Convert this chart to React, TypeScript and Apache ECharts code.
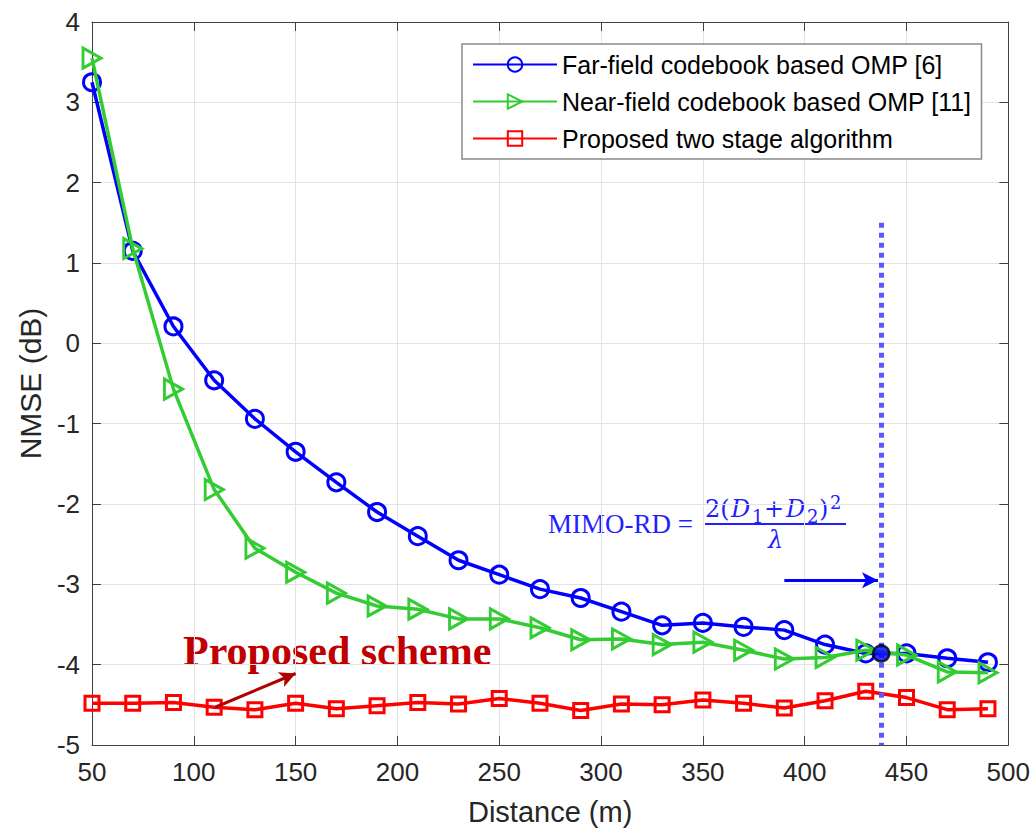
import React, { useEffect, useRef } from 'react';
import * as echarts from 'echarts';

const distance = [50, 70, 90, 110, 130, 150, 170, 190, 210, 230, 250, 270, 290, 310, 330, 350, 370, 390, 410, 430, 450, 470, 490];
const farField = [3.25, 1.15, 0.21, -0.46, -0.94, -1.35, -1.73, -2.10, -2.40, -2.70, -2.88, -3.06, -3.17, -3.34, -3.51, -3.48, -3.53, -3.57, -3.75, -3.86, -3.86, -3.92, -3.97];
const nearField = [3.55, 1.18, -0.57, -1.82, -2.55, -2.85, -3.11, -3.27, -3.31, -3.43, -3.43, -3.54, -3.69, -3.68, -3.75, -3.72, -3.82, -3.93, -3.91, -3.82, -3.88, -4.09, -4.10];
const proposed = [-4.48, -4.48, -4.47, -4.53, -4.56, -4.48, -4.55, -4.51, -4.47, -4.49, -4.42, -4.48, -4.57, -4.49, -4.50, -4.44, -4.48, -4.54, -4.45, -4.33, -4.41, -4.56, -4.55];
const seriesNames = ['Far-field codebook based OMP [6]', 'Near-field codebook based OMP [11]', 'Proposed two stage algorithm'];
const mimoRd = 437.6;
const mimoRdPoint = [437.6, -3.86];
const mimoLineTop = 1.5;
const mimoArrow = [[390, -2.95], [436, -2.95]];
const schemeArrow = [[110.5, -4.53], [150, -4.11]];

const pairs = (ys: number[]) => distance.map((d, i) => [d, ys[i]]);

export default function App() {
  const ref = useRef<HTMLDivElement>(null);
  useEffect(() => {
    const chart = echarts.init(ref.current!, null, { renderer: 'svg' });
    const sans = '"Liberation Sans", Arial, sans-serif';
    const serif = '"Liberation Serif", "Times New Roman", serif';
    const mathFont = '"DejaVu Serif", serif';
    const axisColor = '#404040';
    const mathBlue = '#1f1fff';
    const xBase = {
      type: 'value', min: 50, max: 500, interval: 50,
      axisLine: { show: true, onZero: false, lineStyle: { color: axisColor, width: 1 } },
      axisTick: { show: true, inside: true, length: 9, lineStyle: { color: axisColor } },
    };
    const yBase = {
      type: 'value', min: -5, max: 4, interval: 1,
      axisLine: { show: true, onZero: false, lineStyle: { color: axisColor, width: 1 } },
      axisTick: { show: true, inside: true, length: 9, lineStyle: { color: axisColor } },
    };
    const mt = (t: string, x: number, y: number, size: number, italic = false, family = mathFont) => ({
      type: 'text', x, y, silent: true,
      style: { text: t, fill: mathBlue, fontSize: size, fontFamily: family, fontStyle: italic ? 'italic' : 'normal', align: 'left', verticalAlign: 'middle' },
    });
    chart.setOption({
      animation: false,
      backgroundColor: '#fff',
      grid: { left: 92, top: 22, right: 24, bottom: 87, containLabel: false },
      legend: {
        orient: 'vertical', left: 462, top: 44,
        data: seriesNames,
        itemWidth: 84, itemHeight: 18, itemGap: 12,
        padding: [8, 10, 8, 10],
        backgroundColor: '#fff', borderColor: '#8a8a8a', borderWidth: 1.5,
        textStyle: { fontSize: 25, fontFamily: sans, color: '#000' },
      },
      xAxis: [
        {
          ...xBase, position: 'bottom',
          name: 'Distance (m)', nameLocation: 'middle', nameGap: 52,
          nameTextStyle: { fontSize: 29, fontFamily: sans, color: '#262626' },
          axisLabel: { fontSize: 26, fontFamily: sans, color: '#262626', margin: 14 },
          splitLine: { show: true, lineStyle: { color: '#e3e3e3', width: 1 } },
        },
        { ...xBase, position: 'top', axisLabel: { show: false }, splitLine: { show: false } },
      ],
      yAxis: [
        {
          ...yBase, position: 'left',
          name: 'NMSE (dB)', nameLocation: 'middle', nameGap: 47, nameRotate: 90,
          nameTextStyle: { fontSize: 30, fontFamily: sans, color: '#262626' },
          axisLabel: { fontSize: 26, fontFamily: sans, color: '#262626', margin: 12 },
          splitLine: { show: true, lineStyle: { color: '#e3e3e3', width: 1 } },
        },
        { ...yBase, position: 'right', axisLabel: { show: false }, splitLine: { show: false } },
      ],
      series: [
        {
          name: seriesNames[0], type: 'line', data: pairs(farField),
          symbol: 'circle', symbolSize: 17,
          lineStyle: { color: '#0000ff', width: 3.5 },
          itemStyle: { color: 'transparent', borderColor: '#0000ff', borderWidth: 3 },
          z: 3,
        },
        {
          name: seriesNames[1], type: 'line', data: pairs(nearField),
          symbol: 'triangle', symbolSize: [20, 18], symbolRotate: -90,
          lineStyle: { color: '#33cc33', width: 3.5 },
          itemStyle: { color: 'transparent', borderColor: '#33cc33', borderWidth: 3 },
          z: 4,
        },
        {
          name: seriesNames[2], type: 'line', data: pairs(proposed),
          symbol: 'rect', symbolSize: 14,
          lineStyle: { color: '#ff0000', width: 3.5 },
          itemStyle: { color: 'transparent', borderColor: '#ff0000', borderWidth: 3 },
          z: 3,
          markLine: {
            silent: true, symbol: ['none', 'none'], label: { show: false },
            data: [
              [
                { coord: [mimoRd, mimoLineTop], lineStyle: { color: '#5858ff', width: 5, type: [5, 5] } },
                { coord: [mimoRd, -5] },
              ],
              [
                { coord: mimoArrow[0], symbol: 'none', lineStyle: { color: '#0000ff', width: 3, type: 'solid' } },
                { coord: mimoArrow[1], symbol: 'arrow', symbolSize: [12, 16] },
              ],
              [
                { coord: schemeArrow[0], symbol: 'none', lineStyle: { color: '#b00000', width: 3, type: 'solid' } },
                { coord: schemeArrow[1], symbol: 'arrow', symbolSize: [12, 16] },
              ],
            ],
          },
        },
        {
          name: 'MIMO-RD point', type: 'scatter', data: [mimoRdPoint],
          symbol: 'circle', symbolSize: 16,
          itemStyle: { color: '#0000ff', borderColor: '#000', borderWidth: 2.5 },
          z: 6, silent: true,
        },
      ],
      graphic: [
        {
          type: 'text', x: 183, y: 651, silent: true,
          style: { text: 'Proposed scheme', fill: '#c00000', fontSize: 42, fontWeight: 'bold', fontFamily: serif, align: 'left', verticalAlign: 'middle' },
        },
        mt('MIMO-RD =', 548, 524, 27, false, serif),
        mt('2(', 705, 509, 24),
        mt('D', 731, 509, 24, true),
        mt('1', 752, 516, 18),
        mt('+', 764, 509, 24),
        mt('D', 786, 509, 24, true),
        mt('2', 807, 516, 18),
        mt(')', 819, 509, 24),
        mt('2', 830, 502, 18),
        {
          type: 'line', silent: true,
          shape: { x1: 705, y1: 524, x2: 846, y2: 524 },
          style: { stroke: mathBlue, lineWidth: 2 },
        },
        mt('λ', 768, 540, 24, true),
      ],
    });
    return () => chart.dispose();
  }, []);
  return <div ref={ref} style={{ position: 'absolute', left: 0, top: 0, width: 1033, height: 832, background: '#fff' }} />;
}
